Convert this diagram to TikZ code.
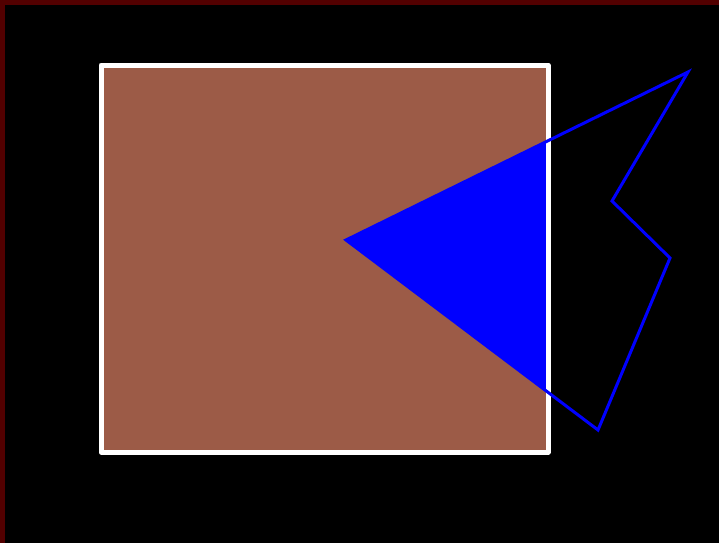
\documentclass[tikz,border=0pt]{standalone}
\usepackage{tikz}
\definecolor{FrameRed}{HTML}{520000}
\definecolor{Sienna}{HTML}{9C5B47}
\definecolor{KiteBlue}{HTML}{0000FF}

\begin{document}
\begin{tikzpicture}[x=1pt,y=-1pt]
  % background and frame
  \fill[FrameRed] (0,0) rectangle (719,543);
  \fill[black] (5,5) rectangle (719,543);
  \useasboundingbox (0,0) rectangle (719,543);
  % corners of the polygon
  \coordinate (P1) at (346,240);
  \coordinate (P2) at (688,72);
  \coordinate (P3) at (612,201);
  \coordinate (P4) at (670,258);
  \coordinate (P5) at (598,430);
  % the box
  \fill[Sienna] (101,65) rectangle (548,452);
  \begin{scope}
    \clip (101,65) rectangle (548,452);
    \fill[KiteBlue] (P1) -- (P2) -- (P3) -- (P4) -- (P5) -- cycle;
  \end{scope}
  \draw[white, line width=5pt, line join=round] (101,65) rectangle (548,452);
  \draw[KiteBlue, line width=3pt, line join=miter]
    (P1) -- (P2) -- (P3) -- (P4) -- (P5) -- cycle;
\end{tikzpicture}
\end{document}
